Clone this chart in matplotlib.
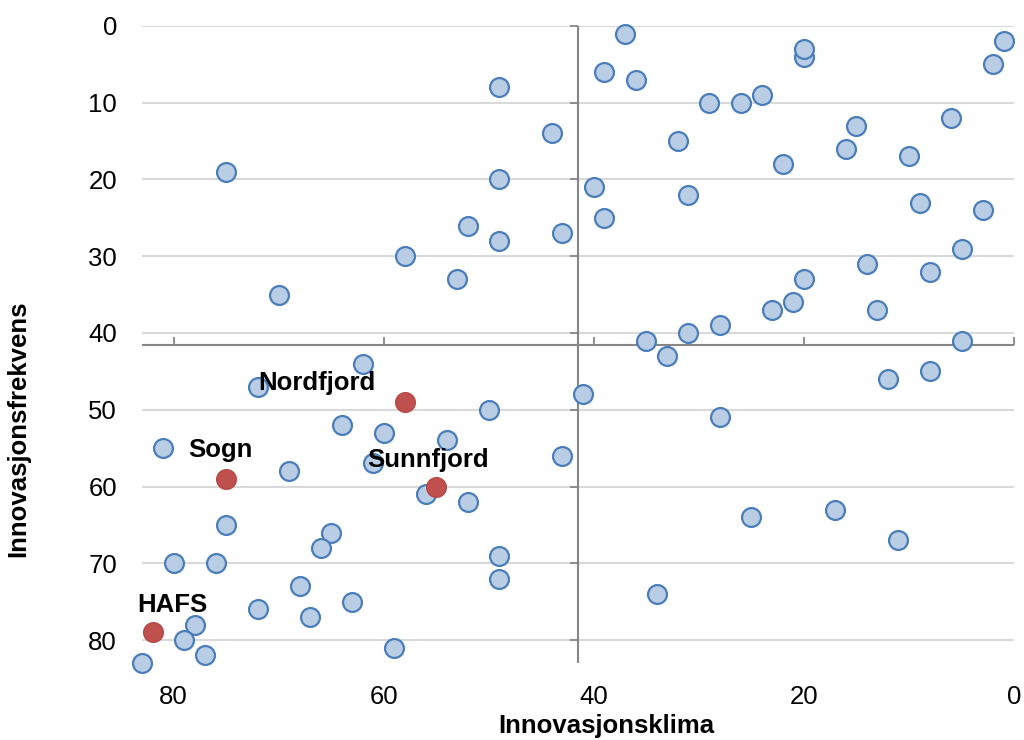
import matplotlib
matplotlib.use("Agg")
import matplotlib.pyplot as plt

plt.rcParams['font.family'] = ['Liberation Sans', 'DejaVu Sans']

# Innovasjonsklima (x) and Innovasjonsfrekvens (y) for all units
klima = [37, 1, 20, 20, 2, 39, 36, 49, 24, 29, 26, 6, 15, 44, 32, 16, 10, 22,
         75, 49, 40, 31, 9, 3, 39, 52, 43, 49, 5, 58, 14, 8, 20, 53, 70, 21,
         23, 13, 28, 31, 35, 5, 33, 62, 12, 8, 72, 41, 50, 28, 64, 60, 54, 81,
         43, 61, 69, 56, 52, 17, 25, 75, 65, 11, 66, 49, 80, 76, 49, 68, 34,
         63, 72, 67, 78, 79, 59, 77, 83]
frekvens = [1, 2, 4, 3, 5, 6, 7, 8, 9, 10, 10, 12, 13, 14, 15, 16, 17, 18,
            19, 20, 21, 22, 23, 24, 25, 26, 27, 28, 29, 30, 31, 32, 33, 33, 35, 36,
            37, 37, 39, 40, 41, 41, 43, 44, 46, 45, 47, 48, 50, 51, 52, 53, 54, 55,
            56, 57, 58, 61, 62, 63, 64, 65, 66, 67, 68, 69, 70, 70, 72, 73, 74,
            75, 76, 77, 78, 80, 81, 82, 83]

# Highlighted regions
regions = ["Nordfjord", "Sogn", "Sunnfjord", "HAFS"]
reg_klima = [58, 75, 55, 82]
reg_frekvens = [49, 59, 60, 79]
label_offsets = [(-63, 14), (-4, 21), (-6, 19), (14, 19.5)]

x_ticks = [80, 60, 40, 20, 0]
y_ticks = [0, 10, 20, 30, 40, 50, 60, 70, 80]
cross = 41.5

fig = plt.figure(figsize=(10.24, 7.4), dpi=100)
ax = fig.add_axes([0.1387, 0.104, 0.8516, 0.8609])

ax.set_xlim(83, 0)
ax.set_ylim(83, 0)

for s in ax.spines.values():
    s.set_visible(False)

# gridlines
for yv in y_ticks:
    ax.axhline(yv, color='#d9d9d9', lw=1.5, zorder=0)

# crossing axes
ax.axhline(cross, color='#868686', lw=1.5, zorder=1)
ax.axvline(cross, color='#868686', lw=1.5, zorder=1)
ax.plot(x_ticks, [cross] * len(x_ticks), linestyle='none', marker=2,
        markersize=6, color='#868686', mew=1.3, zorder=1, clip_on=False)
ax.plot([cross] * len(y_ticks), y_ticks, linestyle='none', marker=0,
        markersize=6, color='#868686', mew=1.3, zorder=1, clip_on=False)

ax.scatter(klima, frekvens, s=185, facecolor='#b9cde5', edgecolor='#4a7ebb',
           linewidth=1.6, zorder=3, clip_on=False)
ax.scatter(reg_klima, reg_frekvens, s=200, facecolor='#c0504d',
           edgecolor='#b54a47', linewidth=1.0, zorder=4, clip_on=False)

for name, xv, yv, off in zip(regions, reg_klima, reg_frekvens, label_offsets):
    ax.annotate(name, (xv, yv), xytext=off, textcoords='offset points',
                ha='center', va='center', fontsize=18.5, fontweight='bold',
                color='black', zorder=5)

ax.set_xticks(x_ticks)
ax.set_yticks(y_ticks)
ax.tick_params(axis='both', length=0, labelsize=18.5, colors='black')
ax.tick_params(axis='x', pad=16)
ax.tick_params(axis='y', pad=18)

ax.set_xlabel('Innovasjonsklima', fontsize=18.5, fontweight='bold')
ax.set_ylabel('Innovasjonsfrekvens', fontsize=18.5, fontweight='bold')
ax.xaxis.label.set_va('center')
ax.yaxis.label.set_va('center')
ax.xaxis.set_label_coords(0.532, -0.099)
ax.yaxis.set_label_coords(-0.142, 0.367)

fig.savefig('out.png', dpi=100)
